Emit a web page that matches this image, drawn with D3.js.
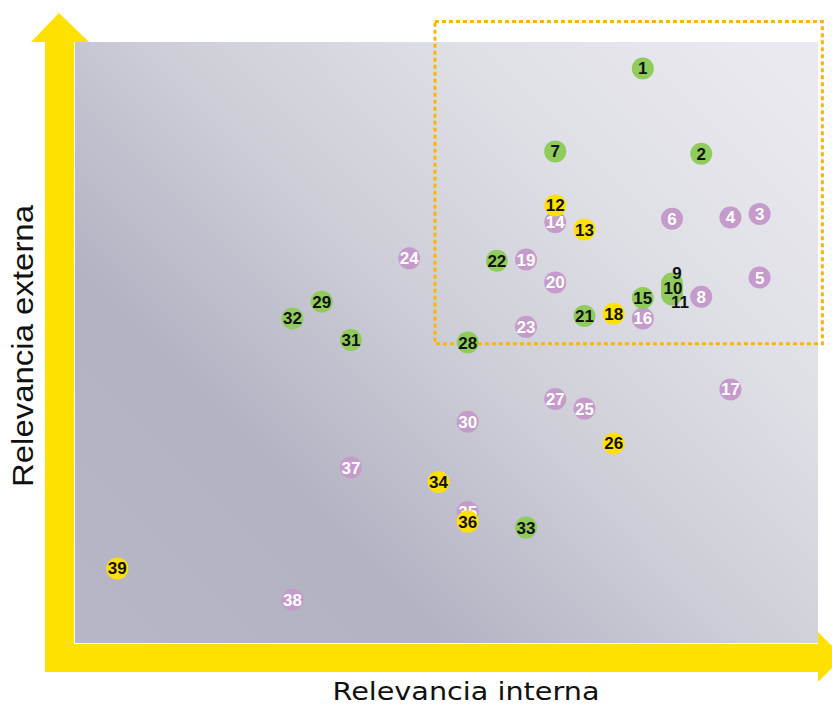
<!DOCTYPE html>
<html>
<head>
<meta charset="utf-8">
<script src="https://d3js.org/d3.v7.min.js"></script>
<style>
  body { margin: 0; background: #fff; }
  svg { display: block; }
</style>
</head>
<body>
<script>
// Topics: id, internal relevance (x), external relevance (y), group
const ids      = [1, 2, 3, 4, 5, 6, 7, 8, 9, 10, 11, 12, 13, 14, 15, 16, 17, 18, 19, 20,
                  21, 22, 23, 24, 25, 26, 27, 28, 29, 30, 31, 32, 33, 34, 35, 36, 37, 38, 39];
const interna  = [3.8, 4.2, 4.6, 4.4, 4.6, 4.0, 3.2, 4.2, 4.0, 4.0, 4.0, 3.2, 3.4, 3.2, 3.8, 3.8, 4.4, 3.6, 3.0, 3.2,
                  3.4, 2.8, 3.0, 2.2, 3.4, 3.6, 3.2, 2.6, 1.6, 2.6, 1.8, 1.4, 3.0, 2.4, 2.6, 2.6, 1.8, 1.4, 0.2];
const externa  = [4.78, 4.07, 3.57, 3.54, 3.04, 3.53, 4.09, 2.88, 2.99, 2.95, 2.90, 3.64, 3.44, 3.50, 2.87, 2.70, 2.11, 2.74, 3.19, 3.00,
                  2.72, 3.18, 2.63, 3.20, 1.95, 1.66, 2.03, 2.50, 2.84, 1.84, 2.52, 2.70, 0.96, 1.34, 1.09, 1.01, 1.46, 0.36, 0.62];
const grupo    = ["v", "v", "m", "m", "m", "m", "v", "m", "v", "v", "v", "a", "a", "m", "v", "m", "m", "a", "m", "m",
                  "v", "v", "m", "m", "m", "a", "m", "v", "v", "m", "v", "v", "v", "a", "m", "a", "m", "m", "a"];
const focusX = [2.376, 5.03];   // highlighted zone (dotted box)
const focusY = [2.49, 5.17];

const W = 832, H = 706;
const plot = { left: 75, right: 818, top: 42, bottom: 643 };

const x = d3.scaleLinear().domain([-0.09, 5]).range([plot.left, plot.right]);
const y = d3.scaleLinear().domain([0, 5]).range([plot.bottom, plot.top]);

const fillColor = { v: "#8fcc5c", m: "#c59bcc", a: "#ffe100" };
const textColor = { v: "#111", m: "#fff", a: "#111" };
// small label nudges where circles pile up
const labelNudge = { 9: [5, -11], 10: [1, 0], 11: [8, 8] };

const svg = d3.select("body").append("svg")
  .attr("width", W).attr("height", H);

const defs = svg.append("defs");
const grad = defs.append("linearGradient")
  .attr("id", "bg")
  .attr("x1", "0").attr("y1", "0.9")
  .attr("x2", "1").attr("y2", "0.1");
[[0, "#b6b6c6"], [0.25, "#b2b2c3"], [0.5, "#cdcdd7"], [0.75, "#dfdfe6"], [1, "#e9e9ef"]].forEach(([o, c]) =>
  grad.append("stop").attr("offset", o).attr("stop-color", c));

// plot background
svg.append("rect")
  .attr("x", plot.left).attr("y", plot.top)
  .attr("width", plot.right - plot.left)
  .attr("height", plot.bottom - plot.top)
  .attr("fill", "url(#bg)");

// yellow axis arrows
const yellow = "#ffe100";
svg.append("rect")
  .attr("x", 45).attr("y", plot.top)
  .attr("width", 29).attr("height", 672 - plot.top)
  .attr("fill", yellow);
svg.append("path")
  .attr("d", "M31,42 L59,13 L89,42 Z")
  .attr("fill", yellow);
svg.append("rect")
  .attr("x", 45).attr("y", 644)
  .attr("width", 818 - 45).attr("height", 28)
  .attr("fill", yellow);
svg.append("path")
  .attr("d", "M818,632 L843,657 L818,682 Z")
  .attr("fill", yellow);

// dotted focus box
svg.append("rect")
  .attr("x", x(focusX[0])).attr("y", y(focusY[1]))
  .attr("width", x(focusX[1]) - x(focusX[0]))
  .attr("height", y(focusY[0]) - y(focusY[1]))
  .attr("fill", "none")
  .attr("stroke", "#ffb400")
  .attr("stroke-width", 3)
  .attr("stroke-dasharray", "4,3");

// points: one layer per group (circles, then labels); purple, green, yellow
const points = ids.map((id, i) => ({ id, xi: interna[i], ye: externa[i], g: grupo[i] }));

["m", "v", "a"].forEach(g => {
  const sub = points.filter(d => d.g === g);
  const layer = svg.append("g");
  layer.selectAll("circle")
    .data(sub)
    .join("circle")
    .attr("cx", d => x(d.xi))
    .attr("cy", d => y(d.ye))
    .attr("r", 11)
    .attr("fill", fillColor[g]);
  layer.selectAll("text")
    .data(sub)
    .join("text")
    .attr("x", d => x(d.xi) + (labelNudge[d.id] || [0, 0])[0])
    .attr("y", d => y(d.ye) + (labelNudge[d.id] || [0, 0])[1] + 6)
    .attr("text-anchor", "middle")
    .attr("font-family", "'Liberation Sans', Arial, sans-serif")
    .attr("font-weight", "bold")
    .attr("font-size", 17)
    .attr("fill", textColor[g])
    .text(d => d.id);
});

// axis titles
svg.append("text")
  .attr("x", 466).attr("y", 700)
  .attr("text-anchor", "middle")
  .attr("font-family", "'DejaVu Sans', sans-serif")
  .attr("font-size", 25)
  .attr("textLength", 267)
  .attr("lengthAdjust", "spacingAndGlyphs")
  .attr("fill", "#111")
  .text("Relevancia interna");

svg.append("text")
  .attr("transform", "translate(33,346) rotate(-90)")
  .attr("text-anchor", "middle")
  .attr("font-family", "'Liberation Sans', Arial, sans-serif")
  .attr("font-size", 29)
  .attr("textLength", 282)
  .attr("lengthAdjust", "spacingAndGlyphs")
  .attr("fill", "#111")
  .text("Relevancia externa");
</script>
</body>
</html>
